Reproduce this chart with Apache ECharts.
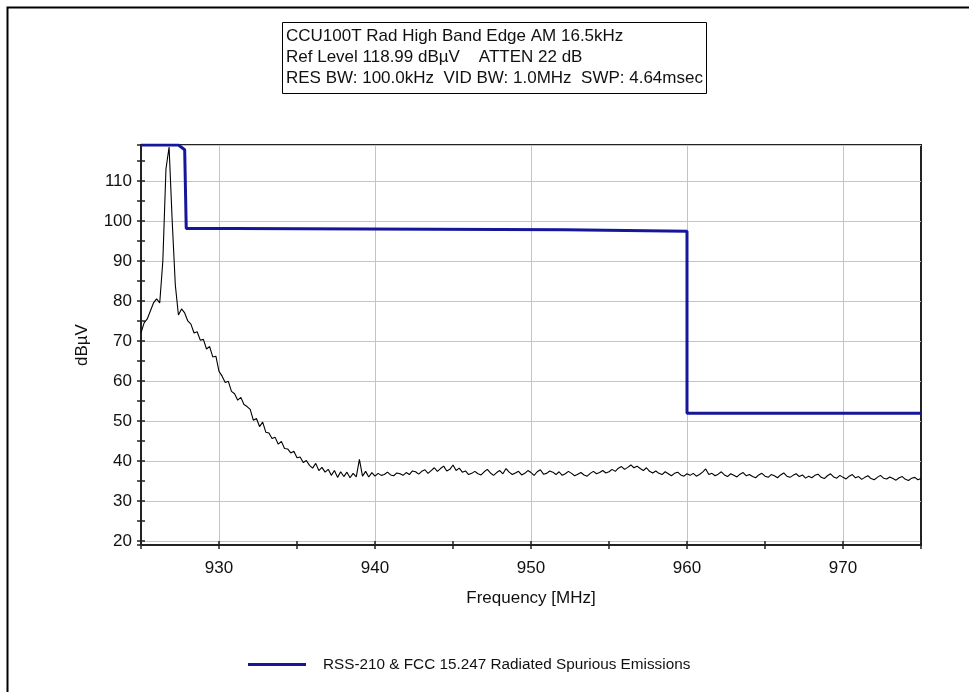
<!DOCTYPE html>
<html>
<head>
<meta charset="utf-8">
<script src="https://cdn.jsdelivr.net/npm/echarts@6/dist/echarts.min.js"></script>
<style>
  html, body { margin: 0; padding: 0; background: #fff; }
  #chart { width: 969px; height: 692px; }
</style>
</head>
<body>
<div id="chart"></div>
<script>
// header text of the analyzer plot
const titleLines = [
  'CCU100T Rad High Band Edge AM 16.5kHz',
  'Ref Level 118.99 dB\u00b5V    ATTEN 22 dB',
  'RES BW: 100.0kHz  VID BW: 1.0MHz  SWP: 4.64msec'
];
const limitName = 'RSS-210 & FCC 15.247 Radiated Spurious Emissions';

// sweep: 925 -> 975 MHz, one reading every 0.2 MHz
const sweepStart = 925;
const sweepStep = 0.2;
const traceLevel = [
  72, 74.5, 75.5, 77.5, 79.5,
  80.5, 79.5, 90, 113, 118.5,
  100, 84, 76.5, 78, 77,
  75.0, 74.2, 72.0, 72.3, 70.2,
  70.4, 68.0, 68.6, 66.0, 66.2,
  62.4, 61.2, 59.6, 59.9, 57.4,
  56.8, 55.2, 55.9, 54.1, 53.6,
  52.9, 50.2, 50.6, 48.6, 49.7,
  47.2, 47.0, 45.6, 45.9, 44.2,
  44.9, 43.1, 43.0, 42.0, 42.4,
  40.8, 41.0, 39.6, 40.1, 38.9,
  38.2, 39.4, 37.6, 38.4, 37.2,
  37.9, 36.4, 37.6, 35.9, 37.3,
  36.1, 37.2, 35.8, 36.9, 36.0,
  40.4, 36.2, 37.4, 36.0, 37.1,
  36.2, 36.9, 36.4, 36.6, 37.2,
  36.5, 36.3, 37.0, 36.8, 36.4,
  37.1, 36.6, 37.5, 37.3, 36.7,
  37.4, 37.8, 36.9, 37.6, 38.3,
  37.4, 38.1, 38.7, 37.5, 37.9,
  39.0, 37.6, 38.2, 37.2, 37.5,
  36.6, 36.9, 37.4, 36.8, 36.5,
  37.3, 37.9, 37.0, 36.4, 37.1,
  37.6, 36.8, 38.1, 37.2, 36.6,
  37.0, 37.4, 36.5, 36.9, 37.6,
  37.1, 36.4, 37.3, 37.8, 36.7,
  36.9, 37.5, 37.2, 36.6, 37.3,
  36.4, 36.8, 37.4, 36.9, 36.3,
  36.7, 37.1, 36.5, 36.2, 36.9,
  37.4, 36.8, 37.1, 37.6, 37.0,
  37.3, 37.9, 37.4, 38.2, 38.6,
  37.9, 38.4, 39.0, 38.3, 38.7,
  38.1, 37.6, 38.3, 37.4, 37.0,
  37.5, 36.9, 36.6, 37.3, 36.8,
  36.3, 36.9, 37.2, 36.5, 36.2,
  36.8, 36.4, 36.9, 36.2, 36.6,
  37.2, 38.0, 36.6, 36.9, 36.3,
  36.7, 37.3, 36.5, 36.1, 36.8,
  36.4, 36.0, 36.7, 37.1, 36.3,
  36.6, 36.1, 35.8, 36.5, 36.9,
  36.2, 35.9, 36.6, 36.3, 35.8,
  36.5, 37.0, 36.2, 35.9, 36.4,
  36.8, 36.1, 36.5, 35.7, 36.2,
  35.8, 36.4, 36.7, 35.9, 35.6,
  36.3, 36.8, 36.0, 35.7, 36.4,
  35.9, 35.5, 36.2, 36.6, 35.8,
  36.1, 35.4, 35.9, 36.3, 35.6,
  35.3, 35.9, 36.4, 35.7, 35.5,
  36.0, 35.6, 35.2, 35.8, 36.1,
  35.4, 35.1, 35.7, 35.9, 35.3,
  35.6
];

// limit line corners
const limitFreq  = [925, 927.4, 927.8, 927.9, 927.9, 931.0, 931.0, 952.2, 952.2, 960, 960, 975];
const limitLevel = [118.99, 118.99, 117.8, 117.4, 98.1, 98.1, 97.8, 97.8, 97.4, 97.4, 51.9, 51.9];

const yMin = 18.99;
const yMax = 118.99;

const chart = echarts.init(document.getElementById('chart'));

const font = "'Liberation Sans', Arial, sans-serif";
const dark = '#222';
const labelEveryTen = v => (Math.abs(v % 10) < 1e-6 ? String(Math.round(v)) : '');

const option = {
  animation: false,
  backgroundColor: '#fff',
  textStyle: { fontFamily: font },
  title: {
    text: titleLines.join('\n'),
    left: 282,
    top: 22,
    padding: [4, 4, 5, 4],
    borderColor: '#000',
    borderWidth: 1,
    textStyle: { fontSize: 17, fontWeight: 'normal', color: '#111', lineHeight: 21, fontFamily: font }
  },
  graphic: [{
    type: 'rect',
    left: 5,
    top: 5,
    shape: { width: 1000, height: 1000 },
    style: { fill: 'none', stroke: '#000', lineWidth: 2 },
    silent: true
  }],
  legend: {
    data: [limitName],
    left: 243,
    top: 652,
    icon: 'rect',
    itemWidth: 58,
    itemHeight: 3,
    textStyle: { fontSize: 15.3, color: '#111', padding: [0, 0, 0, 12] }
  },
  grid: {
    left: 141,
    right: 48,
    top: 145,
    bottom: 147,
    show: true,
    borderColor: dark,
    borderWidth: 2,
    backgroundColor: 'transparent'
  },
  xAxis: [
    {
      type: 'value',
      position: 'bottom',
      min: 925,
      max: 975,
      interval: 5,
      name: 'Frequency [MHz]',
      nameLocation: 'middle',
      nameGap: 45,
      nameTextStyle: { fontSize: 17, color: '#111' },
      axisLine: { lineStyle: { color: dark, width: 2 } },
      axisTick: { length: 4, lineStyle: { color: dark, width: 1.5 } },
      axisLabel: { formatter: labelEveryTen, margin: 15, fontSize: 17, color: '#111' },
      splitLine: { show: true, lineStyle: { color: ['transparent', '#c4c4c4'], width: 1 } }
    },
    {
      type: 'value',
      position: 'bottom',
      min: 925,
      max: 975,
      interval: 5,
      axisLine: { show: false },
      axisTick: { inside: true, length: 4, lineStyle: { color: dark, width: 1.5 } },
      axisLabel: { show: false },
      splitLine: { show: false }
    }
  ],
  yAxis: [
    {
      type: 'value',
      position: 'left',
      min: yMin,
      max: yMax,
      splitNumber: 20,
      name: 'dB\u00b5V',
      nameLocation: 'middle',
      nameGap: 50,
      nameRotate: 90,
      nameTextStyle: { fontSize: 17, color: '#111' },
      axisLine: { show: true, lineStyle: { color: dark, width: 2 } },
      axisTick: { show: true, length: 4, lineStyle: { color: dark, width: 1.5 } },
      axisLabel: { formatter: labelEveryTen, margin: 9, fontSize: 17, color: '#111' },
      splitLine: { show: true, lineStyle: { color: ['transparent', '#c4c4c4'], width: 1 } }
    },
    {
      type: 'value',
      position: 'left',
      min: yMin,
      max: yMax,
      splitNumber: 20,
      axisLine: { show: false },
      axisTick: { show: true, inside: true, length: 4, lineStyle: { color: dark, width: 1.5 } },
      axisLabel: { show: false },
      splitLine: { show: false }
    }
  ],
  series: [
    {
      name: 'trace',
      type: 'line',
      data: traceLevel.map((v, i) => [sweepStart + i * sweepStep, v]),
      showSymbol: false,
      color: '#000',
      lineStyle: { color: '#000', width: 1.1 },
      z: 2
    },
    {
      name: limitName,
      type: 'line',
      data: limitFreq.map((f, i) => [f, limitLevel[i]]),
      showSymbol: false,
      color: '#16169a',
      lineStyle: { color: '#16169a', width: 3 },
      z: 3
    }
  ]
};

chart.setOption(option);
</script>
</body>
</html>
